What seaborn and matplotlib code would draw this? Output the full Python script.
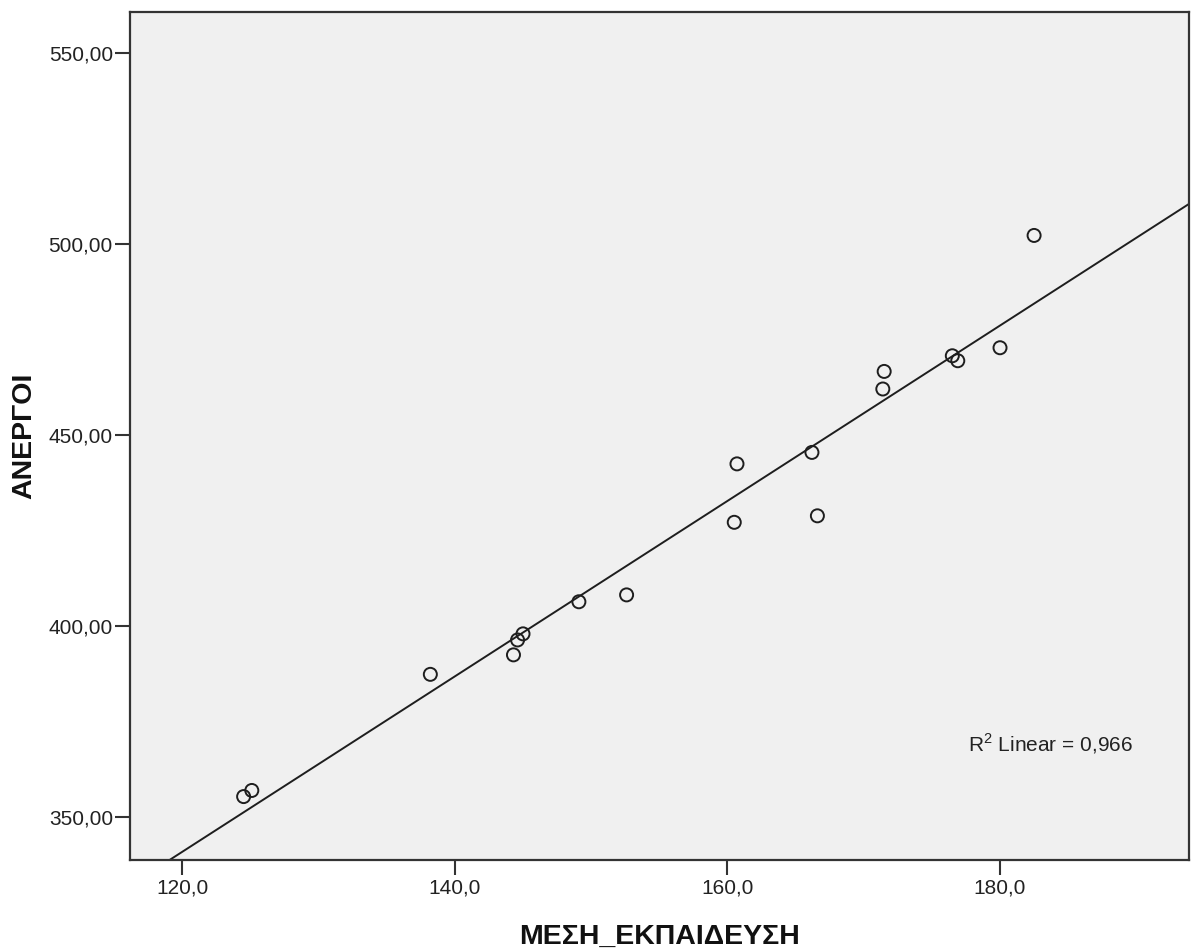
import matplotlib
matplotlib.use("Agg")
import matplotlib.pyplot as plt
from matplotlib.ticker import FixedLocator, FuncFormatter
import pandas as pd
import seaborn as sns

# Secondary education (x) vs unemployed (y)
mesi_ekpaideysi = [124.5, 125.1, 138.2, 144.3, 144.6, 145.0, 149.1, 152.6, 160.7,
                   160.5, 166.2, 166.6, 171.5, 171.4, 176.5, 176.9, 180.0, 182.5]
anergoi = [355.4, 357.0, 387.4, 392.5, 396.4, 398.0, 406.4, 408.2, 442.5,
           427.2, 445.5, 428.9, 466.7, 462.1, 470.8, 469.5, 472.9, 502.3]
x_ticks = [120, 140, 160, 180]
y_ticks = [350, 400, 450, 500, 550]
r2_linear = 0.966

df = pd.DataFrame({"ΜΕΣΗ_ΕΚΠΑΙΔΕΥΣΗ": mesi_ekpaideysi, "ΑΝΕΡΓΟΙ": anergoi})

sns.set_style("white")
plt.rcParams["font.family"] = ["Liberation Sans", "DejaVu Sans"]
plt.rcParams["mathtext.fontset"] = "custom"
plt.rcParams["mathtext.rm"] = "Liberation Sans"

fig = plt.figure(figsize=(11.94, 9.51), dpi=100)
ax = fig.add_axes([0.1085, 0.0957, 0.8877, 0.8917])
ax.set_facecolor("#f0f0f0")
ax.set_xlim(116.13, 193.9)
ax.set_ylim(338.8, 560.8)

sns.regplot(data=df, x="ΜΕΣΗ_ΕΚΠΑΙΔΕΥΣΗ", y="ΑΝΕΡΓΟΙ", ax=ax, ci=None,
            truncate=False, color="#1e1e1e",
            scatter_kws=dict(s=88, facecolors="none", edgecolors="#1e1e1e",
                             linewidths=1.4, alpha=1, zorder=3),
            line_kws=dict(lw=1.4, zorder=2))

ax.set_xlim(116.13, 193.9)
ax.set_ylim(338.8, 560.8)

ax.xaxis.set_major_locator(FixedLocator(x_ticks))
ax.yaxis.set_major_locator(FixedLocator(y_ticks))
ax.xaxis.set_major_formatter(FuncFormatter(lambda v, p: f"{v:.1f}".replace(".", ",")))
ax.yaxis.set_major_formatter(FuncFormatter(lambda v, p: f"{v:.2f}".replace(".", ",")))
ax.tick_params(axis="both", which="major", direction="out", length=10.5, width=1.5,
               color="#333333", labelsize=15, labelcolor="#222222", pad=1.5,
               bottom=True, left=True)
ax.tick_params(axis="x", pad=3)

for side in ["left", "right", "top", "bottom"]:
    ax.spines[side].set_visible(True)
    ax.spines[side].set_color("#333333")
    ax.spines[side].set_linewidth(1.6)

ax.set_xlabel("ΜΕΣΗ_ΕΚΠΑΙΔΕΥΣΗ", fontsize=20.5, fontweight="bold", color="#111111")
ax.set_ylabel("ΑΝΕΡΓΟΙ", fontsize=20.5, fontweight="bold", color="#111111")
ax.xaxis.set_label_coords(0.5, -0.075)
ax.yaxis.set_label_coords(-0.087, 0.5)

ax.text(0.791, 0.1277, "R$^{2}$ Linear = " + f"{r2_linear:.3f}".replace(".", ","),
        transform=ax.transAxes, fontsize=15, color="#222222",
        ha="left", va="baseline")

fig.savefig("out.png", dpi=100, facecolor="white")
